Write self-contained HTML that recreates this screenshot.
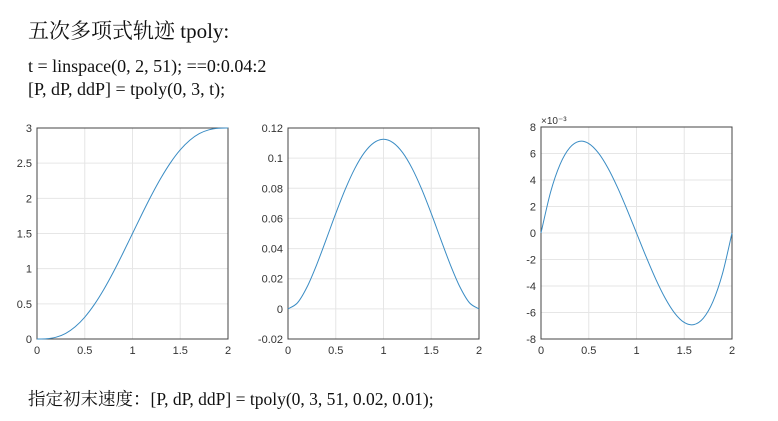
<!DOCTYPE html>
<html><head><meta charset="utf-8"><style>
body{margin:0;width:778px;height:421px;background:#fff;overflow:hidden;position:relative;font-family:"Liberation Serif","Noto Serif CJK SC",serif;}
.t{position:absolute;color:#111;white-space:nowrap;}
svg{position:absolute;left:0;top:0;}
</style></head><body>
<div class="t" style="left:28px;top:15px;font-size:21px;">五次多项式轨迹 tpoly:</div>
<div class="t" style="left:28px;top:56px;font-size:18px;">t = linspace(0, 2, 51); ==0:0.04:2</div>
<div class="t" style="left:28px;top:79px;font-size:18px;">[P, dP, ddP] = tpoly(0, 3, t);</div>
<div class="t" style="left:28px;top:386px;font-size:17.5px;">指定初末速度：[P, dP, ddP] = tpoly(0, 3, 51, 0.02, 0.01);</div>
<svg id="s" width="778" height="421"></svg>
<script>
const tVals=[0,0.1,0.2,0.3,0.4,0.5,0.6,0.7,0.8,0.9,1,1.1,1.2,1.3,1.4,1.5,1.6,1.7,1.8,1.9,2];
const pVals=[0,0.0035,0.0257,0.0798,0.1738,0.3105,0.4892,0.7055,0.9523,1.2206,1.5,1.7794,2.0477,2.2945,2.5108,2.6895,2.8262,2.9202,2.9743,2.9965,3];
const dpVals=[0,0.00406,0.01458,0.02926,0.04608,0.06328,0.07938,0.09316,0.10368,0.11026,0.1125,0.11026,0.10368,0.09316,0.07938,0.06328,0.04608,0.02926,0.01458,0.00406,0];
const ddpVals=[0,3.078,5.184,6.426,6.912,6.75,6.048,4.914,3.456,1.782,0,-1.782,-3.456,-4.914,-6.048,-6.75,-6.912,-6.426,-5.184,-3.078,0];
const xTicks=[0,0.5,1,1.5,2];
const yTicks1=[0,0.5,1,1.5,2,2.5,3];
const yTicks2=[-0.02,0,0.02,0.04,0.06,0.08,0.1,0.12];
const yTicks3=[-8,-6,-4,-2,0,2,4,6,8];
const svg=document.getElementById('s');
const NS='http://www.w3.org/2000/svg';
function mk(tag,attrs){const e=document.createElementNS(NS,tag);for(const k in attrs)e.setAttribute(k,attrs[k]);svg.appendChild(e);return e;}
function plot(name,L,R,T,B,ymin,ymax,yt,ys){
  const sx=v=>L+(v-0)/(2-0)*(R-L), sy=v=>B-(v-ymin)/(ymax-ymin)*(B-T);
  let r=mk('rect',{x:L,y:T,width:R-L,height:B-T,fill:'#fff',stroke:'none'});
  
  
  xTicks.forEach(v=>{
    const g=mk('line',{x1:sx(v),x2:sx(v),y1:T,y2:B,stroke:'#e6e6e6','stroke-width':1});
    
    
    const tx=mk('text',{x:sx(v),y:B+15,'text-anchor':'middle','font-size':11,fill:'#333','font-family':'Liberation Sans, sans-serif'});
    tx.textContent=String(v);
    
    
  });
  yt.forEach(v=>{
    const g=mk('line',{x1:L,x2:R,y1:sy(v),y2:sy(v),stroke:'#e6e6e6','stroke-width':1});
    
    
    const tx=mk('text',{x:L-5,y:sy(v)+4,'text-anchor':'end','font-size':11,fill:'#333','font-family':'Liberation Sans, sans-serif'});
    tx.textContent=String(v);
    
    
  });
  const b=mk('rect',{x:L,y:T,width:R-L,height:B-T,fill:'none',stroke:'#444','stroke-width':1});
  
  
  const P=tVals.map((t,i)=>[sx(t),sy(ys[i])]);
  let d='M'+P[0][0]+','+P[0][1];
  for(let i=0;i<P.length-1;i++){
    const p0=P[Math.max(0,i-1)],p1=P[i],p2=P[i+1],p3=P[Math.min(P.length-1,i+2)];
    const c1=[p1[0]+(p2[0]-p0[0])/6,p1[1]+(p2[1]-p0[1])/6],c2=[p2[0]-(p3[0]-p1[0])/6,p2[1]-(p3[1]-p1[1])/6];
    d+=' C'+c1+' '+c2+' '+p2;
  }
  const pa=mk('path',{d:d,fill:'none',stroke:'#3a8cc4','stroke-width':1});
  
  
}
plot('position-plot',37,228,128,339,0,3,yTicks1,pVals);
plot('velocity-plot',288,479,128,339,-0.02,0.12,yTicks2,dpVals);
plot('acceleration-plot',541,732,127,339,-8,8,yTicks3,ddpVals);
const ex=mk('text',{x:541,y:124,'font-size':10,fill:'#333','font-family':'Liberation Sans, sans-serif'});
ex.textContent='×10⁻³';


</script>
</body></html>
